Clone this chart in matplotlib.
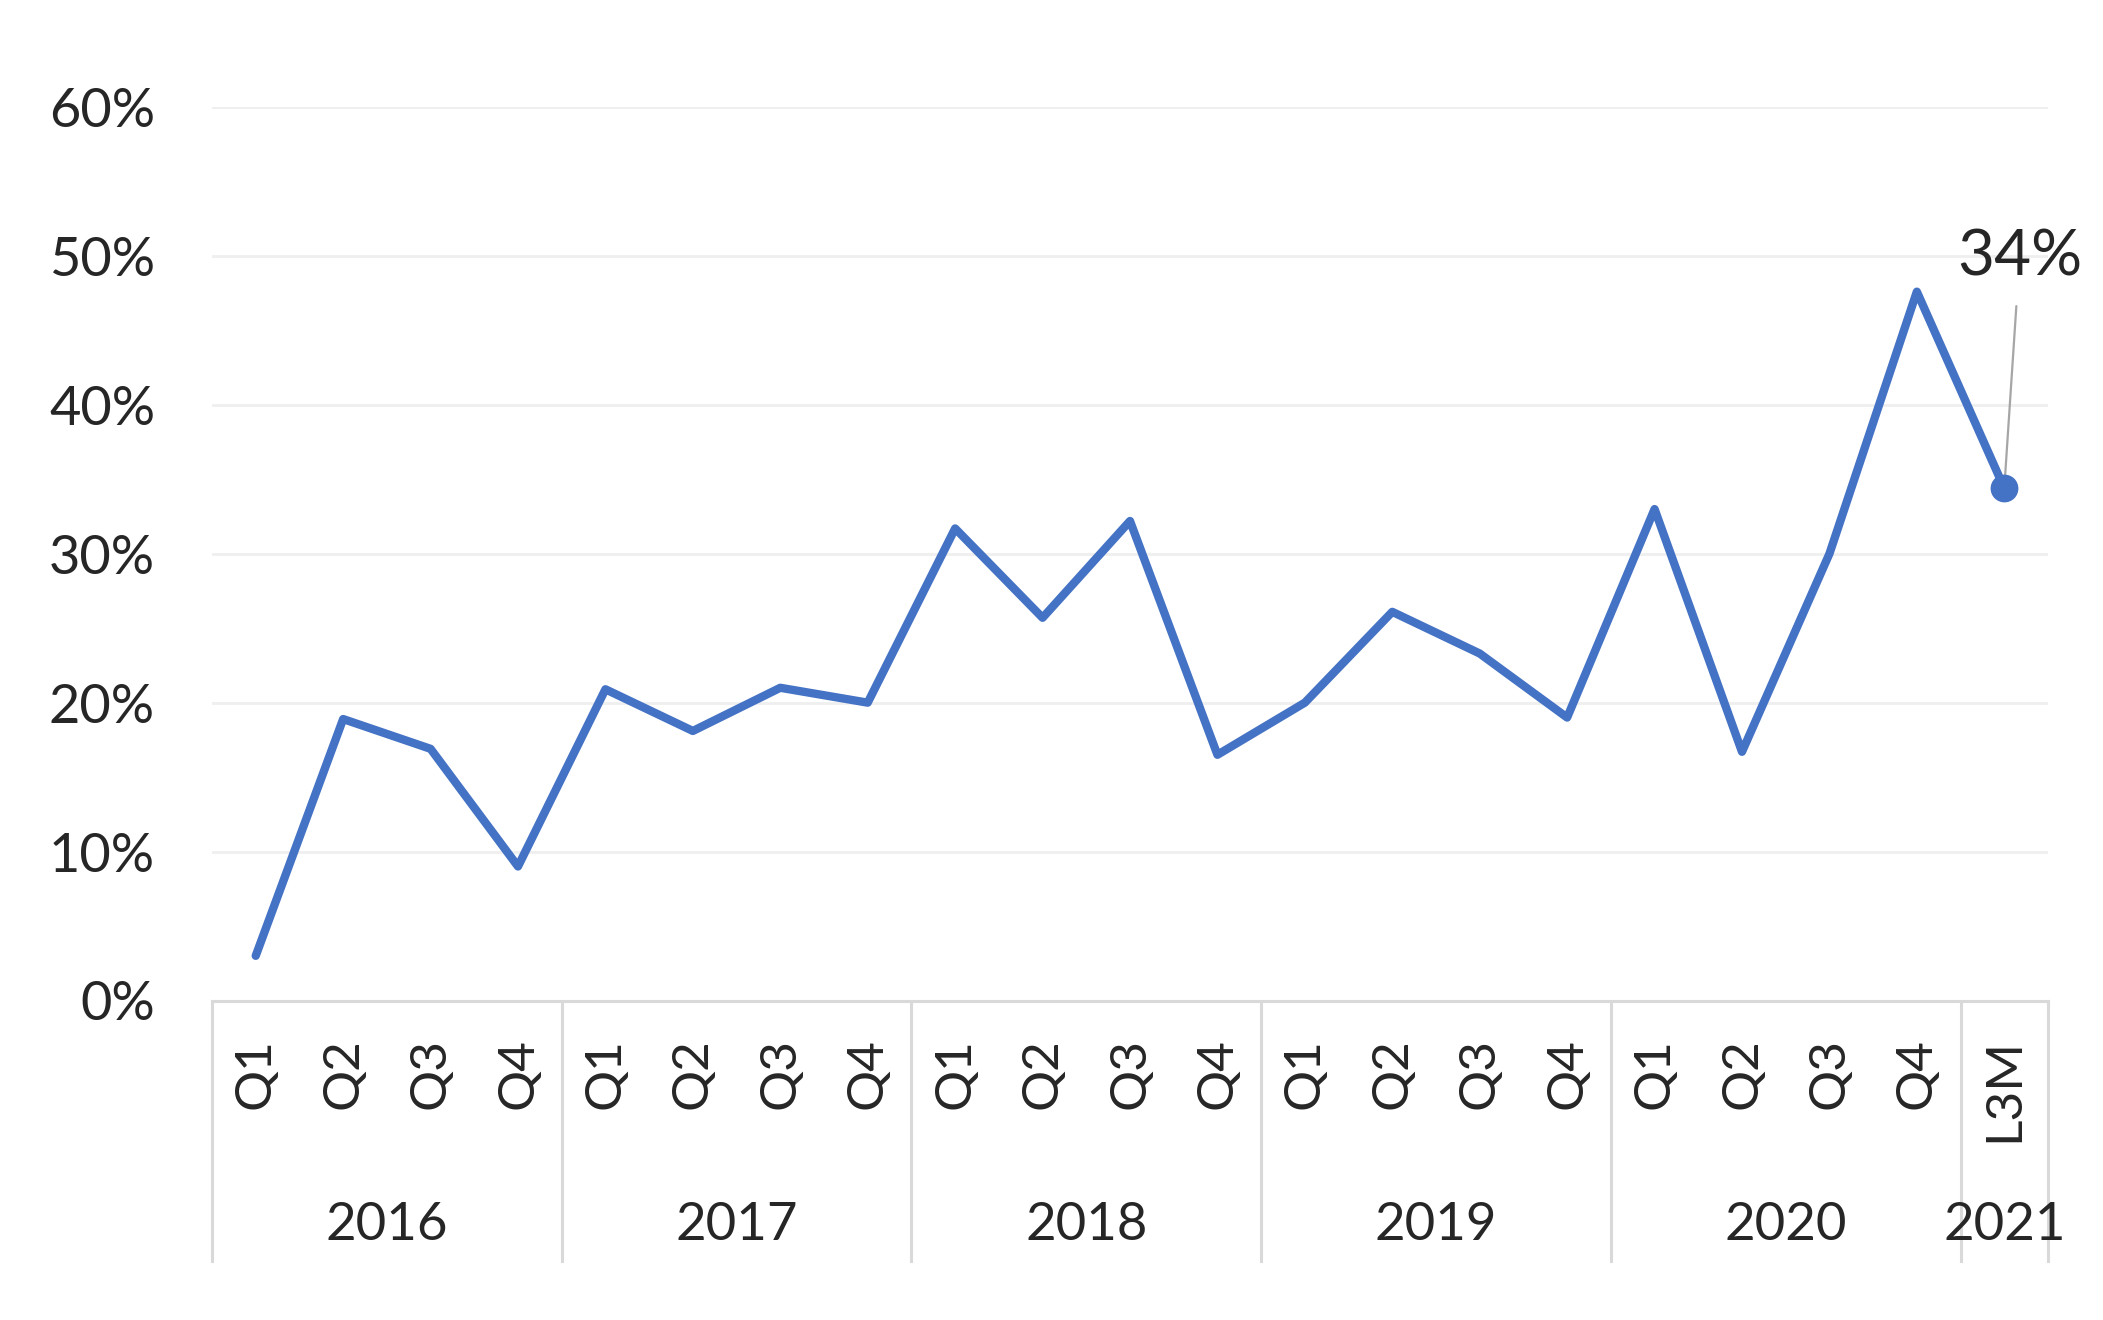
import matplotlib
matplotlib.use("Agg")
import matplotlib.pyplot as plt
from matplotlib.ticker import FuncFormatter, MultipleLocator

plt.rcParams['font.family'] = ['Lato', 'DejaVu Sans']

quarters = ["Q1", "Q2", "Q3", "Q4"] * 5 + ["L3M"]
years = ["2016", "2017", "2018", "2019", "2020", "2021"]
year_sizes = [4, 4, 4, 4, 4, 1]
values = [3.0, 18.9, 16.9, 9.0,
          20.9, 18.1, 21.0, 20.0,
          31.7, 25.7, 32.2, 16.5,
          20.0, 26.1, 23.3, 19.0,
          33.0, 16.7, 30.0, 47.6,
          34.4]
last_label = "34%"

BLUE = "#4472C4"
TXT = "#262626"
GRID = "#EFEFEF"
AXC = "#D9D9D9"

W, H = 2103, 1320
fig = plt.figure(figsize=(W / 100, H / 100), dpi=100)
left, right = 212, 2048
top_px, bot_px = 107, 1000.5
ax = fig.add_axes([left / W, 1 - bot_px / H, (right - left) / W, (bot_px - top_px) / H])

x = list(range(len(values)))
ax.plot(x, values, color=BLUE, lw=6, solid_joinstyle='round', solid_capstyle='round', zorder=3)
ax.plot([x[-1]], [values[-1]], 'o', color=BLUE, ms=19, zorder=4)

ax.set_xlim(-0.5, len(values) - 0.5)
ax.set_ylim(0, 60)
ax.yaxis.set_major_locator(MultipleLocator(10))
ax.yaxis.set_major_formatter(FuncFormatter(lambda v, p: f"{int(v)}%"))
ax.grid(axis='y', color=GRID, lw=2)
ax.set_axisbelow(True)
for s in ['top', 'right', 'left']:
    ax.spines[s].set_visible(False)
ax.spines['bottom'].set_color(AXC)
ax.spines['bottom'].set_linewidth(2.2)
ax.tick_params(axis='y', length=0, pad=41, labelsize=39, labelcolor=TXT)
ax.set_xticks([])

def fy(px):
    return (bot_px - px) / (bot_px - top_px)

tr = ax.get_xaxis_transform()
for i, q in enumerate(quarters):
    ax.text(i, fy(1038), q, rotation=90, ha='center', va='top', fontsize=37,
            color=TXT, transform=tr)

start = 0
bounds = [start]
for name, n in zip(years, year_sizes):
    center = start + (n - 1) / 2
    ax.text(center, fy(1225), name, ha='center', va='center', fontsize=38,
            color=TXT, transform=tr)
    start += n
    bounds.append(start)
for b in bounds:
    ax.plot([b - 0.5, b - 0.5], [0, fy(1261)], color=AXC, lw=2.2, transform=tr, clip_on=False)

ax.annotate(last_label, xy=(x[-1], values[-1]), xytext=(11, 166), textcoords='offset points',
            ha='center', va='center', fontsize=46, color=TXT,
            arrowprops=dict(arrowstyle='-', color='#A6A6A6', lw=1.6, shrinkA=12, shrinkB=0))

fig.savefig("out.png", dpi=100, facecolor='white')
